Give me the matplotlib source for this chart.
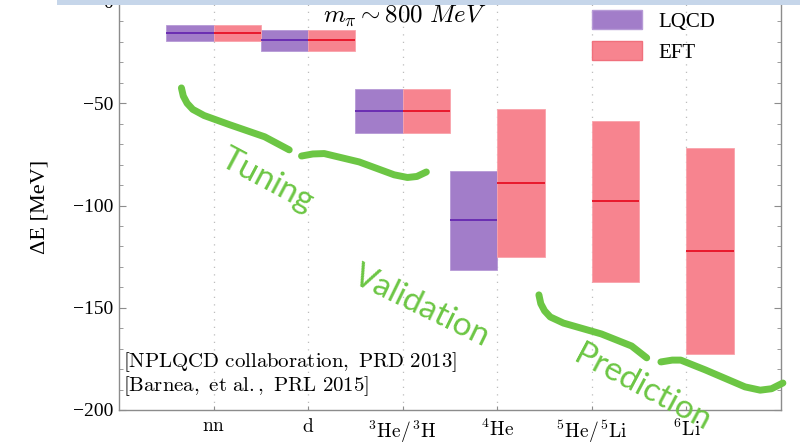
import numpy as np
import matplotlib
matplotlib.use("Agg")
import matplotlib.pyplot as plt
from matplotlib.patches import Patch, Rectangle

# Dados (MeV)
categorias = [r"$\mathrm{nn}$", r"$\mathrm{d}$", r"$^{3}\mathrm{He}/^{3}\mathrm{H}$",
              r"$^{4}\mathrm{He}$", r"$^{5}\mathrm{He}/^{5}\mathrm{Li}$", r"$^{6}\mathrm{Li}$"]
lqcd_media = [-15.6, -19.0, -53.7, -107.0]
lqcd_min = [-19.4, -24.3, -64.4, -131.5]
lqcd_max = [-11.7, -14.1, -43.0, -82.9]
eft_media = [-15.6, -19.0, -53.7, -89.1, -97.9, -122.1]
eft_min = [-19.4, -24.3, -64.4, -125.3, -137.5, -172.6]
eft_max = [-11.7, -14.1, -43.0, -52.8, -58.6, -71.8]

# Chaves desenhadas a mao (coordenadas de dados)
chave_tuning = [([0.66, 0.68, 0.72, 0.78, 0.90, 1.17, 1.54, 1.80],
                 [-42.5, -46.5, -50.0, -53.0, -56.0, -60.5, -66.4, -72.8]),
                ([1.93, 2.05, 2.17, 2.54, 2.91, 3.05, 3.15, 3.25],
                 [-75.8, -74.8, -74.6, -78.7, -85.0, -86.3, -85.8, -83.6])]
chave_pred = [([4.44, 4.46, 4.50, 4.56, 4.70, 5.10, 5.42, 5.58],
               [-143.7, -148.0, -151.5, -154.5, -157.5, -162.8, -168.7, -174.5]),
              ([5.73, 5.85, 5.94, 6.20, 6.62, 6.78, 6.90, 7.02],
               [-176.5, -175.6, -175.6, -180.4, -188.7, -190.3, -189.6, -186.8])]

cor_lqcd, linha_lqcd = "#a27dc9", "#6a2db2"
cor_eft, linha_eft = "#f7848f", "#e8192c"
verde = "#6cc644"
cinza = "#8c8c8c"

plt.rcParams["font.family"] = ["Liberation Serif", "DejaVu Serif"]
plt.rcParams["mathtext.fontset"] = "cm"

fig = plt.figure(figsize=(8, 4.45), dpi=100)
ax = fig.add_axes([119 / 800, 1 - 410 / 445, 662 / 800, 409 / 445])

x = np.arange(1, len(categorias) + 1)
xl = x[:len(lqcd_media)]

ax.bar(xl - 0.25, np.array(lqcd_max) - np.array(lqcd_min), bottom=lqcd_min, width=0.5,
       color=cor_lqcd, edgecolor="#b69ad6", linewidth=0.6, zorder=2)
ax.bar(x + 0.25, np.array(eft_max) - np.array(eft_min), bottom=eft_min, width=0.5,
       color=cor_eft, edgecolor="#f9a3ab", linewidth=0.6, zorder=2)
ax.hlines(lqcd_media, xl - 0.5, xl, color=linha_lqcd, lw=1.4, zorder=3)
ax.hlines(eft_media, x, x + 0.5, color=linha_eft, lw=1.4, zorder=3)

# Grade vertical pontilhada
for xi in x:
    ax.axvline(xi, color="#bdbdbd", lw=0.9, ls=(0, (1, 5)), zorder=1)

ax.set_xlim(0, 7)
ax.set_ylim(-200, 0)
ax.set_xticks(x)
ax.set_xticklabels(categorias, fontsize=14)
ax.set_yticks(np.arange(-200, 1, 50))
ax.set_yticklabels(["\u2212%d" % abs(v) if v else "0" for v in range(-200, 1, 50)], fontsize=14)
ax.set_yticks(np.arange(-200, 1, 10), minor=True)
ax.tick_params(axis="both", which="both", direction="in", colors=cinza, labelcolor="black",
               top=True, right=True)
ax.tick_params(axis="y", which="major", length=5, pad=4)
ax.tick_params(axis="y", which="minor", length=3)
ax.tick_params(axis="x", which="major", length=3, pad=6)
for s in ax.spines.values():
    s.set_color(cinza)
    s.set_linewidth(1.0)

fig.text(40 / 800, 1 - 207 / 445, "\u0394E [MeV]", rotation=90, ha="center", va="center", fontsize=16)

ax.text(3.02, -7.3, r"$m_\pi \sim 800\ MeV$", ha="center", va="center", fontsize=18)

ax.legend(handles=[Patch(facecolor=cor_lqcd, edgecolor="#b69ad6", label="LQCD"),
                   Patch(facecolor=cor_eft, edgecolor="#f0707c", label="EFT")],
          loc="upper left", bbox_to_anchor=(0.714, 0.978), frameon=False, fontsize=15,
          handlelength=2.4, handleheight=1.05, handletextpad=0.8, labelspacing=0.45,
          borderpad=0, borderaxespad=0)

ax.text(0.04, -176.5, r"$\mathrm{[NPLQCD\ collaboration,\ PRD\ 2013]}$", ha="left", va="center", fontsize=15)
ax.text(0.04, -188.2, r"$\mathrm{[Barnea,\ et\ al.,\ PRL\ 2015]}$", ha="left", va="center", fontsize=15)

# Anotacoes verdes
for xs, ys in chave_tuning + chave_pred:
    ax.plot(xs, ys, color=verde, lw=5, solid_capstyle="round", solid_joinstyle="round",
            clip_on=False, zorder=4)
for txt, xt, yt, rot in [("Tuning", 1.57, -87.5, -28), ("Validation", 3.2, -149.1, -26),
                         ("Prediction", 5.53, -189.2, -28)]:
    ax.text(xt, yt, txt, color=verde, fontsize=24, family=["Lato", "DejaVu Sans"],
            rotation=rot, rotation_mode="anchor", ha="center",
            va="center", zorder=5, clip_on=False)

fig.patches.append(Rectangle((57 / 800, 1 - 5 / 445), 1, 5 / 445, transform=fig.transFigure,
                             facecolor="#c6d6ea", edgecolor="none", zorder=10))

plt.savefig("out.png", dpi=100)
plt.close()
